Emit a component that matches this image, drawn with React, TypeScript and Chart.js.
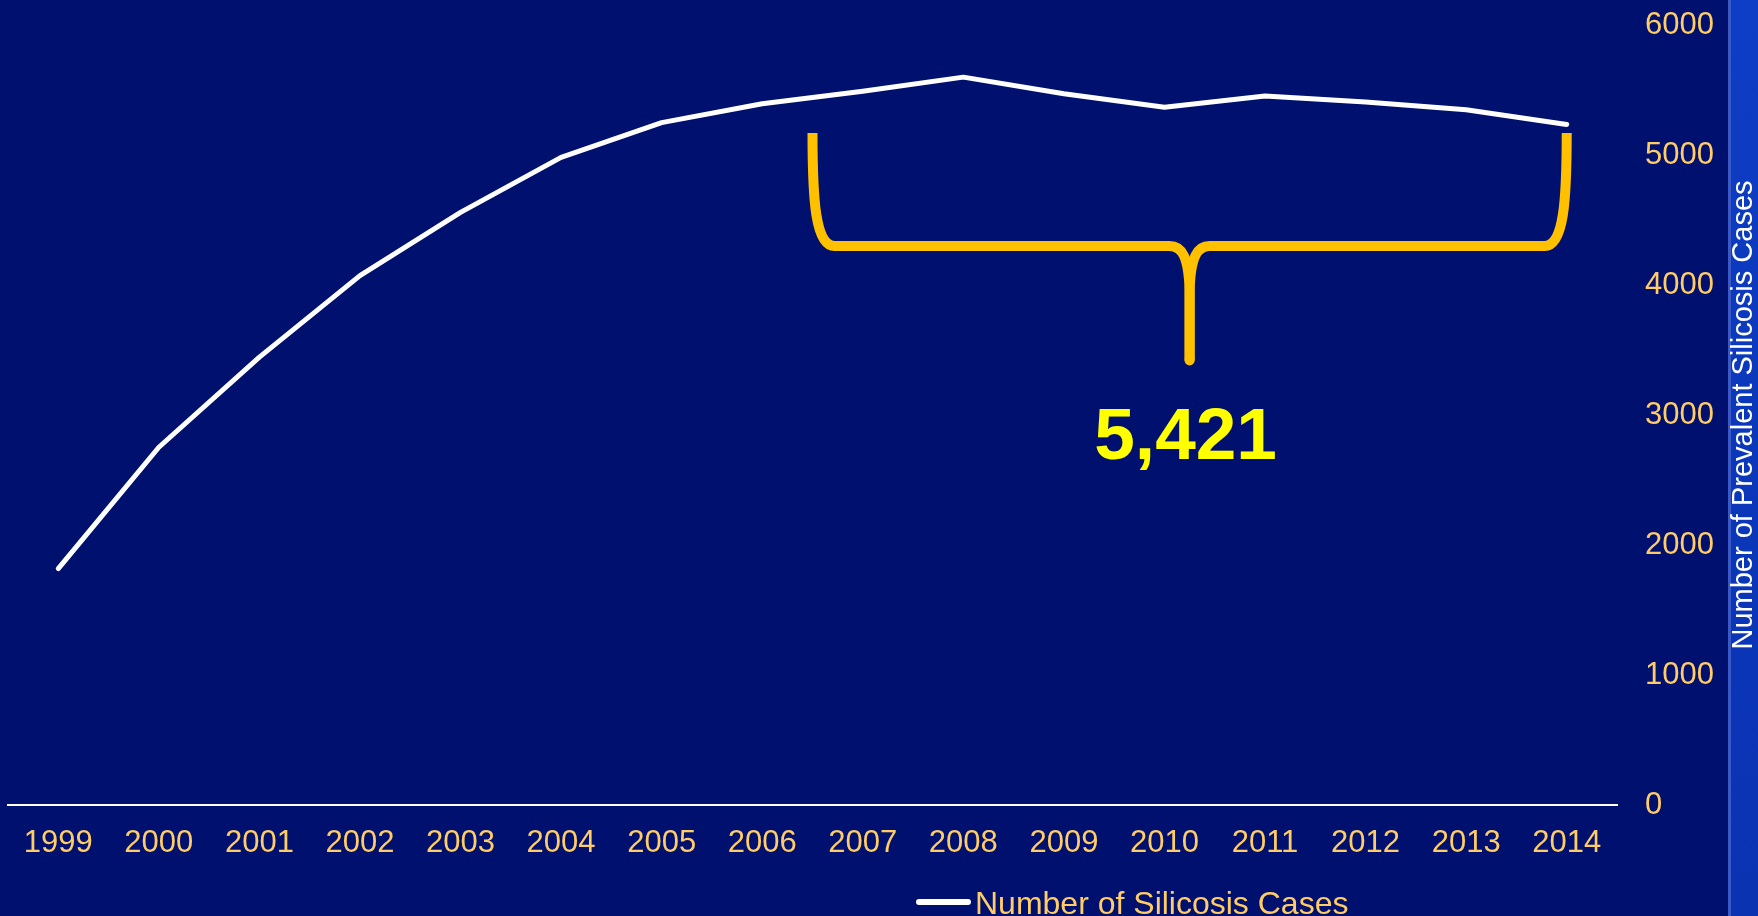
import React, { useEffect, useRef } from "react";
import { Chart, registerables } from "chart.js";

Chart.register(...registerables);

// ---- data ----
const years = [
  "1999", "2000", "2001", "2002", "2003", "2004", "2005", "2006",
  "2007", "2008", "2009", "2010", "2011", "2012", "2013", "2014",
];
const silicosisCases = [
  1819, 2752, 3445, 4072, 4559, 4982, 5249, 5394,
  5490, 5599, 5471, 5368, 5453, 5407, 5348, 5235,
];
const yTickValues = [0, 1000, 2000, 3000, 4000, 5000, 6000];
const seriesLabel = "Number of Silicosis Cases";
const yAxisTitle = "Number of Prevalent Silicosis Cases";
const braceLabel = "5,421";

// brace annotation anchors (category index / axis value)
const braceStartIndex = 7.5;
const braceEndIndex = 15;
const braceTopValue = 5170;
const braceBarValue = 4300;
const braceTipValue = 3420;
const braceLabelValue = 2660;

// ---- styles ----
const NAVY = "#00106F";
const GOLD = "#FFCC66";
const BRACE = "#FFC000";
const FONT = "'Liberation Sans', Arial, Helvetica, sans-serif";

export default function App() {
  const ref = useRef<HTMLCanvasElement | null>(null);

  useEffect(() => {
    const canvas = ref.current;
    if (!canvas) return;

    const decor = {
      id: "decor",
      beforeDraw(chart: any) {
        const { ctx, width, height } = chart;
        ctx.save();
        ctx.fillStyle = NAVY;
        ctx.fillRect(0, 0, width, height);
        const sx = width - 30;
        const g = ctx.createLinearGradient(sx, 0, width, height);
        g.addColorStop(0, "#0E3EC6");
        g.addColorStop(0.5, "#0B37BA");
        g.addColorStop(1, "#0A33B2");
        ctx.fillStyle = g;
        ctx.fillRect(sx, 0, 30, height);
        ctx.fillStyle = "#3A58C6";
        ctx.fillRect(sx, 0, 3, height);
        ctx.restore();
      },
      afterDatasetsDraw(chart: any) {
        const { ctx } = chart;
        const x = chart.scales.x;
        const y = chart.scales.y;
        const xl = x.getPixelForValue(braceStartIndex);
        const xr = x.getPixelForValue(braceEndIndex);
        const xm = (xl + xr) / 2;
        const yt = y.getPixelForValue(braceTopValue);
        const yb = y.getPixelForValue(braceBarValue);
        const ytip = y.getPixelForValue(braceTipValue);
        ctx.save();
        ctx.strokeStyle = BRACE;
        ctx.lineWidth = 10;
        ctx.lineCap = "butt";
        ctx.lineJoin = "round";
        const arm = (sx: number, dir: number) => {
          ctx.beginPath();
          ctx.moveTo(sx, yt);
          ctx.bezierCurveTo(sx, yt + (yb - yt) * 0.6, sx + dir * 3, yb, sx + dir * 22, yb);
          ctx.lineTo(xm - dir * 20, yb);
          ctx.bezierCurveTo(xm - dir * 8, yb, xm - dir * 1, yb + 10, xm, yb + 45);
          ctx.lineTo(xm, ytip);
          ctx.stroke();
        };
        arm(xl, 1);
        arm(xr, -1);
        ctx.beginPath();
        ctx.fillStyle = BRACE;
        ctx.arc(xm, ytip, 5, 0, Math.PI * 2);
        ctx.fill();
        ctx.fillStyle = "#FFFF00";
        ctx.font = `bold 73px ${FONT}`;
        ctx.textAlign = "center";
        ctx.textBaseline = "alphabetic";
        ctx.fillText(braceLabel, xm - 4, y.getPixelForValue(braceLabelValue));
        ctx.restore();
      },
      afterDraw(chart: any) {
        const { ctx, width, chartArea } = chart;
        ctx.save();
        // rotated axis title
        ctx.translate(width - 6, (chartArea.top + chartArea.bottom) / 2);
        ctx.rotate(-Math.PI / 2);
        ctx.fillStyle = "#FFFFFF";
        ctx.font = `29px ${FONT}`;
        ctx.textAlign = "center";
        ctx.textBaseline = "alphabetic";
        ctx.fillText(yAxisTitle, 0, 0);
        ctx.restore();

        // legend
        const ds = chart.data.datasets[0];
        ctx.save();
        const lx = 916;
        const ly = 902;
        ctx.strokeStyle = ds.borderColor;
        ctx.lineWidth = 6;
        ctx.lineCap = "round";
        ctx.beginPath();
        ctx.moveTo(lx + 3, ly);
        ctx.lineTo(lx + 52, ly);
        ctx.stroke();
        ctx.fillStyle = GOLD;
        ctx.font = `32px ${FONT}`;
        ctx.textAlign = "left";
        ctx.textBaseline = "alphabetic";
        ctx.fillText(ds.label, lx + 59, 914);
        ctx.restore();
      },
    };

    const chart = new Chart(canvas, {
      type: "line",
      data: {
        labels: years,
        datasets: [
          {
            label: seriesLabel,
            data: silicosisCases,
            borderColor: "#FFFFFF",
            backgroundColor: "#FFFFFF",
            borderWidth: 5,
            pointRadius: 0,
            tension: 0,
            borderCapStyle: "round",
            borderJoinStyle: "round",
            fill: false,
          },
        ],
      },
      options: {
        animation: false,
        responsive: false,
        layout: { padding: { left: 8, top: 25, right: 0, bottom: 0 } },
        plugins: {
          legend: { display: false },
          tooltip: { enabled: false },
        },
        scales: {
          x: {
            type: "category",
            offset: true,
            grid: { display: false, drawTicks: false },
            border: { display: true, color: "#FFFFF0", width: 2 },
            ticks: {
              color: GOLD,
              font: { family: FONT, size: 31 },
              padding: 20,
              maxRotation: 0,
              autoSkip: false,
            },
            afterFit: (s: any) => {
              s.height = 111;
            },
          },
          y: {
            position: "right",
            min: 0,
            max: 6000,
            grid: { display: false, drawTicks: false },
            border: { display: false },
            afterBuildTicks: (s: any) => {
              s.ticks = yTickValues.map((v) => ({ value: v }));
            },
            ticks: {
              color: GOLD,
              font: { family: FONT, size: 31 },
              padding: 28,
              callback: (v: any) => String(v),
            },
            afterFit: (s: any) => {
              s.width = 141;
              s.paddingTop = 0;
              s.paddingBottom = 0;
            },
          },
        },
      },
      plugins: [decor],
    } as any);

    return () => chart.destroy();
  }, []);

  return (
    <div style={{ position: "absolute", left: 0, top: 0, width: 1758, height: 916, overflow: "hidden" }}>
      <canvas ref={ref} width={1758} height={916} style={{ display: "block", width: 1758, height: 916 }} />
    </div>
  );
}
